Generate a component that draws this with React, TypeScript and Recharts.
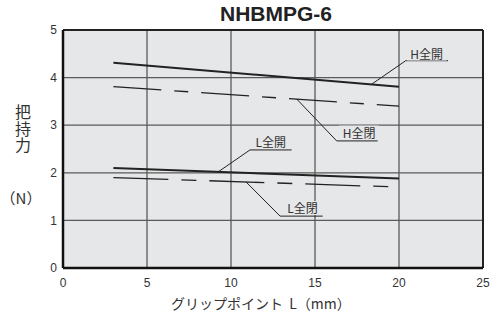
import { LineChart, Line, XAxis, YAxis, CartesianGrid, ReferenceLine, ReferenceDot } from 'recharts'

const xTicks = [0, 5, 10, 15, 20, 25]
const yTicks = [0, 1, 2, 3, 4, 5]

// grip force vs grip point (start / end of each characteristic line)
const hOpen = [{ x: 3, y: 4.31 }, { x: 20, y: 3.81 }]
const hClose = [{ x: 3, y: 3.81 }, { x: 20, y: 3.4 }]
const lOpen = [{ x: 3, y: 2.1 }, { x: 20, y: 1.88 }]
const lClose = [{ x: 3, y: 1.9 }, { x: 20, y: 1.7 }]

// callouts: point on the line, elbow, end of underline, text anchor
const callouts = [
  { text: 'H全開', from: { x: 18.37, y: 3.86 }, elbow: { x: 20.4, y: 4.355 }, end: 22.92, tx: 21.65, ty: 4.4 },
  { text: 'H全閉', from: { x: 13.91, y: 3.55 }, elbow: { x: 16.29, y: 2.67 }, end: 18.73, tx: 17.62, ty: 2.74 },
  { text: 'L全開', from: { x: 9.24, y: 2.02 }, elbow: { x: 11.13, y: 2.48 }, end: 13.61, tx: 12.37, ty: 2.55 },
  { text: 'L全閉', from: { x: 10.89, y: 1.81 }, elbow: { x: 12.92, y: 1.09 }, end: 15.46, tx: 14.26, ty: 1.155 },
]

const BG = '#e6e7e9'
const GRID = '#5a5a5a'
const INK = '#222'
const FONT = '"Liberation Sans", Arial, sans-serif'
const JP = '"Noto Sans CJK JP", "Liberation Sans", sans-serif'

function CalloutText({ cx, cy, text }: any) {
  return (
    <g>
      <rect x={cx - 20} y={cy - 12} width={40} height={14} fill={BG} />
      <text x={cx} y={cy} textAnchor="middle" fontSize={12} fontFamily={JP} fill="#333">
        {text}
      </text>
    </g>
  )
}

export default function App() {
  return (
    <div style={{ position: 'absolute', left: 0, top: 0, width: 490, height: 315, background: '#fff' }}>
      <div style={{ position: 'absolute', left: 0, width: 552, top: 2, textAlign: 'center', fontFamily: FONT, fontWeight: 'bold', fontSize: 21, color: '#222' }}>
        NHBMPG-6
      </div>
      <div style={{ position: 'absolute', left: 11, top: 104, writingMode: 'vertical-rl', fontFamily: JP, fontSize: 16, letterSpacing: 0.7, color: '#333' }}>
        把持力
      </div>
      <div style={{ position: 'absolute', left: 0, top: 187, width: 42, textAlign: 'center', fontFamily: JP, fontSize: 15, color: '#333' }}>
        （N）
      </div>
      <div style={{ position: 'absolute', left: 171, top: 293, whiteSpace: 'pre', fontFamily: JP, fontSize: 14, color: '#333' }}>
        グリップポイント  L（mm）
      </div>
      <LineChart width={490} height={315} margin={{ top: 30, right: 7, bottom: 27, left: 33 }}>
        <CartesianGrid fill={BG} stroke={GRID} strokeWidth={1.3} horizontalValues={yTicks} verticalValues={xTicks} />
        <XAxis
          type="number"
          dataKey="x"
          domain={[0, 25]}
          ticks={xTicks}
          height={20}
          tickLine={false}
          tickSize={6}
          tickMargin={4}
          axisLine={{ stroke: '#111', strokeWidth: 2.5 }}
          tick={{ fontSize: 12, fill: '#333', fontFamily: FONT }}
          allowDataOverflow
        />
        <YAxis
          type="number"
          dataKey="y"
          domain={[0, 5]}
          ticks={yTicks}
          width={30}
          tickLine={false}
          tickSize={4}
          tickMargin={2}
          axisLine={{ stroke: '#111', strokeWidth: 2.5 }}
          tick={{ fontSize: 12, fill: '#333', fontFamily: FONT }}
          allowDataOverflow
        />
        <ReferenceLine y={5} stroke="#222" strokeWidth={2} />
        <ReferenceLine x={25} stroke="#222" strokeWidth={2} />
        <Line data={hOpen} dataKey="y" stroke={INK} strokeWidth={2} dot={false} isAnimationActive={false} />
        <Line data={hClose} dataKey="y" stroke={INK} strokeWidth={1.3} strokeDasharray="48 13 14 13" dot={false} isAnimationActive={false} />
        <Line data={lOpen} dataKey="y" stroke={INK} strokeWidth={2} dot={false} isAnimationActive={false} />
        <Line data={lClose} dataKey="y" stroke={INK} strokeWidth={1.3} strokeDasharray="55 13 15 13" dot={false} isAnimationActive={false} />
        {callouts.map(c => (
          <ReferenceDot
            key={c.text + 'd'}
            x={c.tx}
            y={c.ty}
            r={0}
            shape={(p: any) => <CalloutText cx={p.cx} cy={p.cy} text={c.text} />}
          />
        ))}
        {callouts.map(c => (
          <ReferenceLine key={c.text + 'a'} segment={[c.from, c.elbow]} stroke={INK} strokeWidth={1} />
        ))}
        {callouts.map(c => (
          <ReferenceLine key={c.text + 'b'} segment={[c.elbow, { x: c.end, y: c.elbow.y }]} stroke={INK} strokeWidth={1} />
        ))}
      </LineChart>
    </div>
  )
}
